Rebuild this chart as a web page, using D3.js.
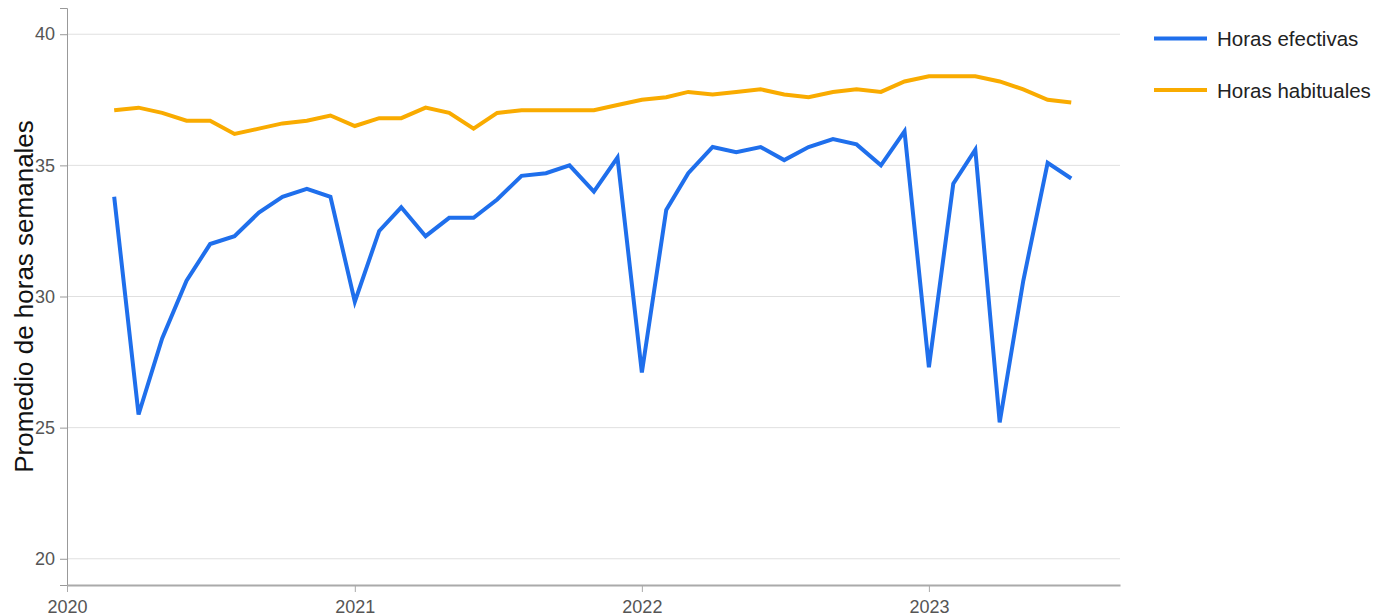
<!DOCTYPE html>
<html>
<head>
<meta charset="utf-8">
<script src="https://cdn.jsdelivr.net/npm/d3@7"></script>
<style>
  body { margin: 0; background: #fff; }
  svg { font-family: "Liberation Sans", Arial, sans-serif; }
</style>
</head>
<body>
<svg id="chart" width="1375" height="616"></svg>
<script>
// monthly series, March 2020 .. July 2023
const startMonth = '2020-03';
const efectivas = [
  33.8, 25.5, 28.4, 30.6, 32.0, 32.3, 33.2, 33.8, 34.1, 33.8,
  29.8, 32.5, 33.4, 32.3, 33.0, 33.0, 33.7, 34.6, 34.7, 35.0, 34.0, 35.3,
  27.1, 33.3, 34.7, 35.7, 35.5, 35.7, 35.2, 35.7, 36.0, 35.8, 35.0, 36.3,
  27.3, 34.3, 35.6, 25.2, 30.6, 35.1, 34.5
];
const habituales = [
  37.1, 37.2, 37.0, 36.7, 36.7, 36.2, 36.4, 36.6, 36.7, 36.9,
  36.5, 36.8, 36.8, 37.2, 37.0, 36.4, 37.0, 37.1, 37.1, 37.1, 37.1, 37.3,
  37.5, 37.6, 37.8, 37.7, 37.8, 37.9, 37.7, 37.6, 37.8, 37.9, 37.8, 38.2,
  38.4, 38.4, 38.4, 38.2, 37.9, 37.5, 37.4
];
const seriesNames = ['Horas efectivas', 'Horas habituales'];
const seriesColors = ['#1f6fec', '#f9ab00'];
const yTicks = [20, 25, 30, 35, 40];
const yTitle = 'Promedio de horas semanales';

const parseMonth = d3.timeParse('%Y-%m');
const t0 = parseMonth(startMonth);
const dates = efectivas.map((d, i) => d3.timeMonth.offset(t0, i));

const plotLeft = 67, plotRight = 1120, plotTop = 8, plotBottom = 585;
const svg = d3.select('#chart');

const x = d3.scaleTime()
  .domain([new Date(2020, 0, 1), new Date(2023, 8, 1)])
  .range([plotLeft, plotRight]);
const y = d3.scaleLinear()
  .domain([19, 41])
  .range([plotBottom, plotTop]);

// grid
svg.append('g')
  .selectAll('line')
  .data(yTicks)
  .enter()
  .append('line')
  .attr('x1', plotLeft)
  .attr('x2', plotRight)
  .attr('y1', d => y(d))
  .attr('y2', d => y(d))
  .attr('stroke', '#e0e0e0')
  .attr('stroke-width', 1);

const yAxis = svg.append('g')
  .attr('transform', `translate(${plotLeft},0)`)
  .call(d3.axisLeft(y).tickValues(yTicks).tickSize(7).tickPadding(5));
yAxis.select('.domain').attr('stroke', '#999');
yAxis.selectAll('.tick line').attr('stroke', '#999');
yAxis.selectAll('text').attr('fill', '#555').style('font-size', '18px');

const xAxis = svg.append('g')
  .attr('transform', `translate(0,${plotBottom})`)
  .call(d3.axisBottom(x).ticks(d3.timeYear.every(1)).tickFormat(d3.timeFormat('%Y')).tickSize(7).tickPadding(8).tickSizeOuter(0));
xAxis.select('.domain').attr('stroke', '#aaa').attr('stroke-width', 2);
xAxis.selectAll('.tick line').attr('stroke', '#aaa');
xAxis.selectAll('text').attr('fill', '#555').style('font-size', '18px');

svg.append('text')
  .attr('transform', `translate(33,${(plotTop + plotBottom) / 2}) rotate(-90)`)
  .attr('text-anchor', 'middle')
  .style('font-size', '26px')
  .attr('fill', '#111')
  .text(yTitle);

const line = d3.line()
  .x((d, i) => x(dates[i]))
  .y(d => y(d));

[efectivas, habituales].forEach((s, k) => {
  svg.append('path')
    .datum(s)
    .attr('fill', 'none')
    .attr('stroke', seriesColors[k])
    .attr('stroke-width', 4)
    .attr('d', line);
});

// legend
const legend = svg.append('g').attr('transform', 'translate(1154,38.5)');
seriesNames.forEach((name, k) => {
  const g = legend.append('g').attr('transform', `translate(0,${k * 51.5})`);
  g.append('line')
    .attr('x1', 0).attr('x2', 53)
    .attr('stroke', seriesColors[k])
    .attr('stroke-width', 4);
  g.append('text')
    .attr('x', 63)
    .attr('y', 7.5)
    .style('font-size', '20.5px')
    .attr('fill', '#222')
    .text(name);
});
</script>
</body>
</html>
